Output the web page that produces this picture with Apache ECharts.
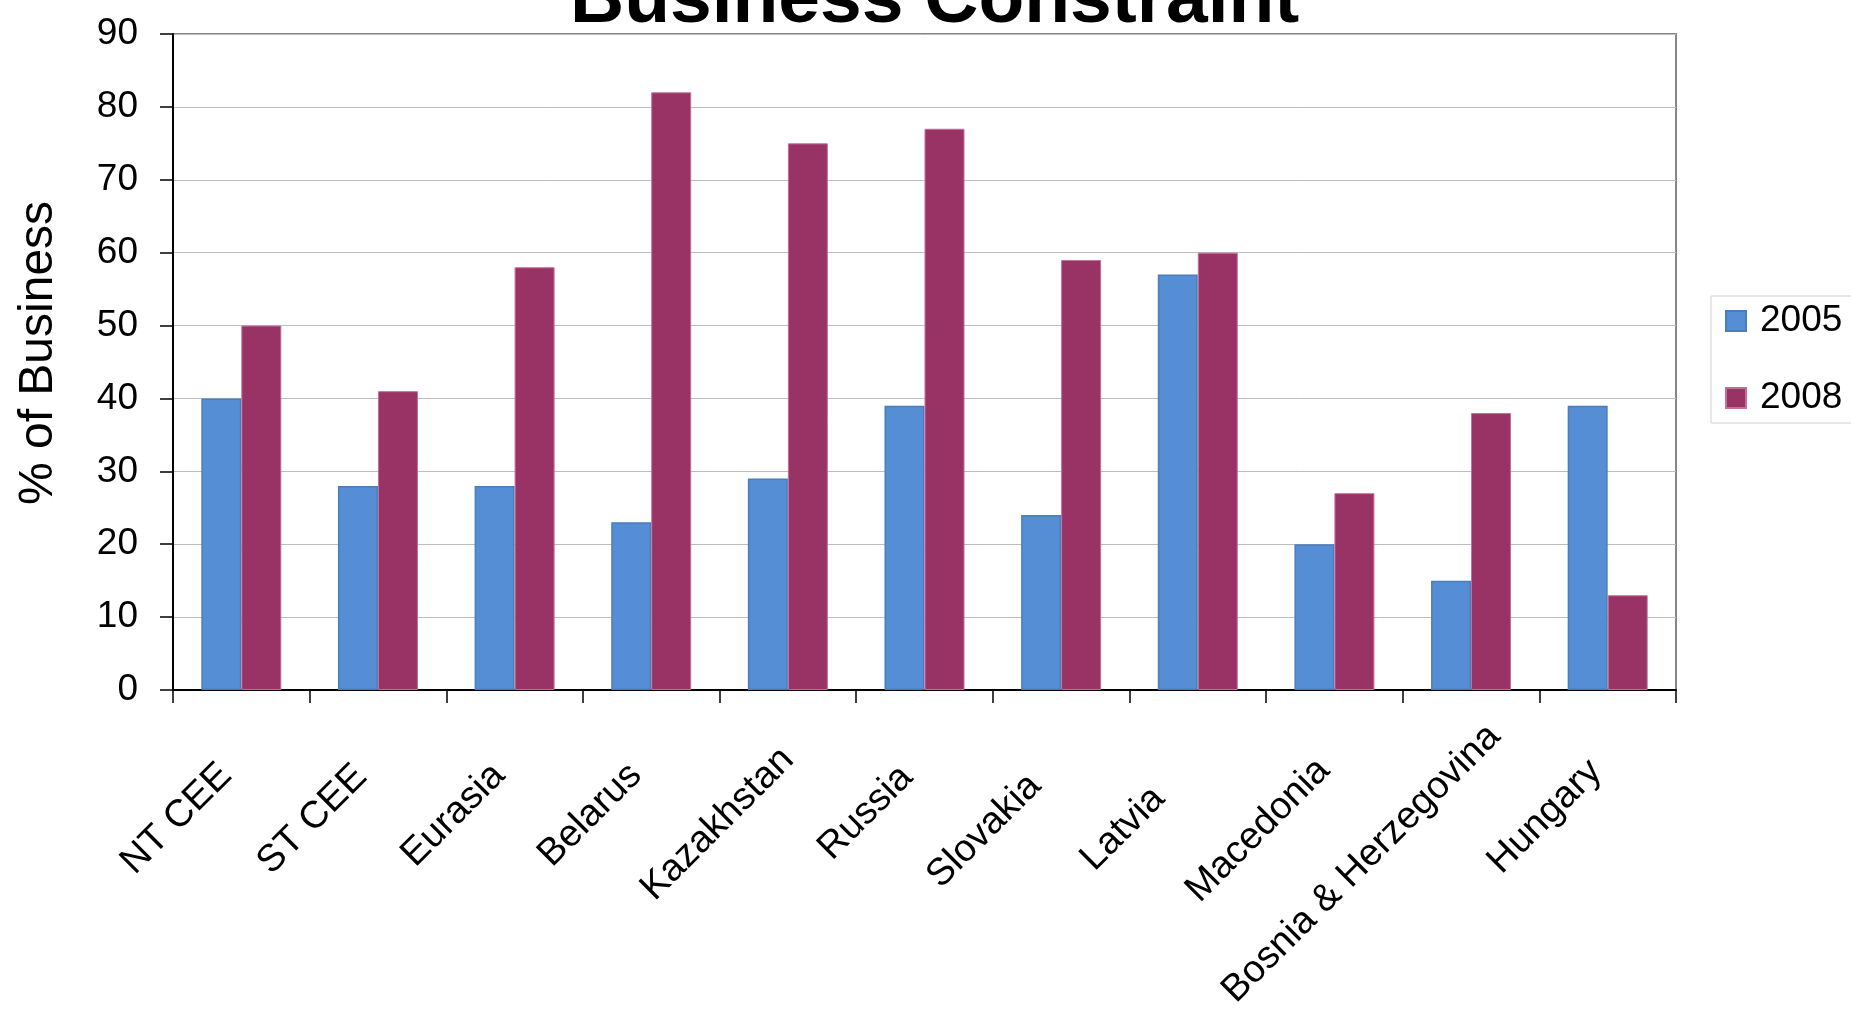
<!DOCTYPE html>
<html>
<head>
<meta charset="utf-8">
<title>Business Constraint</title>
<script src="https://cdn.jsdelivr.net/npm/echarts@6/dist/echarts.min.js"></script>
<style>
  html, body { margin: 0; padding: 0; background: #fff; }
  #chart { width: 1851px; height: 1010px; }
</style>
</head>
<body>
<div id="chart"></div>
<script>
// Share of businesses reporting the constraint, by region / country
const categories = ['NT CEE', 'ST CEE', 'Eurasia', 'Belarus', 'Kazakhstan', 'Russia',
                    'Slovakia', 'Latvia', 'Macedonia', 'Bosnia & Herzegovina', 'Hungary'];
const seriesNames = ['2005', '2008'];
const values2005 = [40, 28, 28, 23, 29, 39, 24, 57, 20, 15, 39];
const values2008 = [50, 41, 58, 82, 75, 77, 59, 60, 27, 38, 13];
const yMin = 0, yMax = 90, yStep = 10;

// Per-label slide along the slant for the category names (right padding, px)
const labelSlide = [22, 24, 22, 22, 0, 25, 37, 55, 15, -33, 17];

const FONT = '"Liberation Sans", Arial, Helvetica, sans-serif';

const chart = echarts.init(document.getElementById('chart'), null, { renderer: 'canvas' });

chart.setOption({
  animation: false,
  backgroundColor: '#ffffff',
  title: {
    text: 'Business Constraint',
    left: 570,
    top: -36,
    padding: 0,
    textStyle: { fontFamily: FONT, fontSize: 75, fontWeight: 'bold', color: '#000' }
  },
  legend: {
    orient: 'vertical',
    left: 1711,
    top: 296,
    padding: [5, 40, 5, 14],
    itemGap: 37,
    itemWidth: 20,
    itemHeight: 20,
    icon: 'rect',
    borderColor: '#d0d0d0',
    borderWidth: 1,
    data: seriesNames,
    textStyle: { fontFamily: FONT, fontSize: 37, color: '#000', lineHeight: 40, padding: [0, 0, 0, 9] }
  },
  grid: {
    show: true,
    left: 173,
    right: 175,
    top: 34,
    bottom: 320,
    outerBoundsMode: 'none',
    containLabel: false,
    borderColor: '#868686',
    borderWidth: 2,
    backgroundColor: 'transparent'
  },
  xAxis: {
    type: 'category',
    data: categories.map((name, i) => ({
      value: name,
      textStyle: { padding: [0, labelSlide[i], 0, 0] }
    })),
    boundaryGap: true,
    axisLine: { show: true, lineStyle: { color: '#000', width: 2 } },
    axisTick: { show: true, interval: 0, length: 13, lineStyle: { color: '#000', width: 1.5 } },
    axisLabel: {
      interval: 0,
      rotate: 45,
      margin: 64,
      hideOverlap: false,
      fontFamily: FONT,
      fontSize: 38,
      color: '#000'
    },
    splitLine: { show: false }
  },
  yAxis: {
    type: 'value',
    min: yMin,
    max: yMax,
    interval: yStep,
    name: '% of Business',
    nameLocation: 'middle',
    nameGap: 110,
    nameMoveOverlap: false,
    nameTextStyle: { fontFamily: FONT, fontSize: 48, color: '#000', padding: [0, 0, 0, 18] },
    axisLine: { show: true, lineStyle: { color: '#000', width: 2 } },
    axisTick: { show: true, length: 13, lineStyle: { color: '#000', width: 1.5 } },
    axisLabel: { margin: 35, fontFamily: FONT, fontSize: 37, color: '#000' },
    splitLine: { show: true, lineStyle: { color: '#bdbdbd', width: 1 } }
  },
  series: [
    {
      name: seriesNames[0],
      type: 'bar',
      data: values2005,
      barWidth: 40,
      barGap: '0%',
      itemStyle: { color: '#558ed5', borderColor: '#4a7ebb', borderWidth: 1.5 }
    },
    {
      name: seriesNames[1],
      type: 'bar',
      data: values2008,
      barWidth: 40,
      barGap: '0%',
      itemStyle: { color: '#993366', borderColor: '#c46f9a', borderWidth: 1 }
    }
  ]
});
</script>
</body>
</html>
